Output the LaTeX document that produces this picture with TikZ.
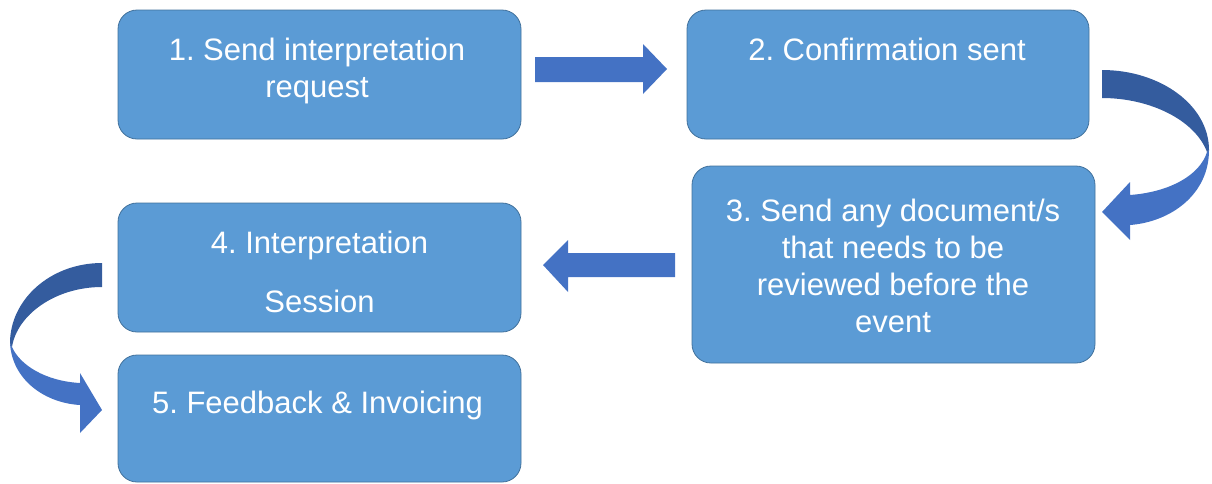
\documentclass[tikz,border=0pt]{standalone}
\usepackage{fontspec}
\setmainfont{Liberation Sans}
\frenchspacing
\definecolor{boxfill}{HTML}{5B9BD5}
\definecolor{boxline}{HTML}{41719C}
\definecolor{arrowblue}{HTML}{4472C4}
\definecolor{arrowdark}{HTML}{345C9E}
\begin{document}
\begin{tikzpicture}[x=1pt,y=-1pt,
  stepbox/.style={draw=boxline, line width=0.8pt, fill=boxfill, rounded corners=19pt,
    inner sep=0pt, outer sep=0pt},
  steptext/.style={text=white, align=center, anchor=base, inner sep=0pt,
    font=\fontsize{31}{36.7}\selectfont},
  blockarrow/.style={fill=arrowblue},
  darkpart/.style={fill=arrowdark}]
\useasboundingbox (0,0) rectangle (1212,483);
% boxes
\node[stepbox, minimum width=403pt, minimum height=129pt] (b1) at (319.5,74.5) {};
\node[stepbox, minimum width=402pt, minimum height=129pt] (b2) at (888,74.5) {};
\node[stepbox, minimum width=403pt, minimum height=197pt] (b3) at (893.5,264.5) {};
\node[stepbox, minimum width=403pt, minimum height=129pt] (b4) at (319.5,267.5) {};
\node[stepbox, minimum width=403pt, minimum height=127pt] (b5) at (319.5,418.5) {};
% texts (anchor base = baseline of last line)
\node[steptext] (t1) at (317,97) {1. Send interpretation\\request};
\node[steptext] (t2) at (887,60) {2. Confirmation sent};
\node[steptext] (t3) at (893,332) {3. Send any document/s\\that needs to be\\reviewed before the\\event};
\node[steptext] (t4) at (319.5,312) {4. Interpretation\\[22pt]Session};
\node[steptext] (t5) at (317.5,413) {5. Feedback \& Invoicing};
% straight block arrows
\fill[blockarrow] (535,57) -- (643,57) -- (643,44) -- (667,69) -- (643,94) -- (643,82) -- (535,82) -- cycle;
\fill[blockarrow] (675,253) -- (568,253) -- (568,240) -- (543,265) -- (568,292) -- (568,277) -- (675,277) -- cycle;
% right curved arrow (2 -> 3)
\fill[blockarrow] (1209,150) .. controls (1209,195) and (1170,222) .. (1130,225)
  -- (1130,240) -- (1102,212) -- (1130,182) -- (1130,195)
  .. controls (1170,192) and (1200,175) .. (1207,152) -- cycle;
\fill[darkpart] (1102,70) .. controls (1160,70) and (1209,105) .. (1209,150)
  -- (1207,152) .. controls (1195,120) and (1150,98) .. (1102,98) -- cycle;
% left curved arrow (4 -> 5)
\fill[blockarrow] (10,343) .. controls (12,380) and (45,403) .. (80,405)
  -- (80,433) -- (102,410) -- (80,373) -- (80,383)
  .. controls (45,381) and (20,365) .. (12,347) -- cycle;
\fill[darkpart] (102,263) .. controls (50,263) and (10,300) .. (10,343)
  -- (12,347) .. controls (17,315) and (55,287) .. (102,287) -- cycle;
\end{tikzpicture}
\end{document}
